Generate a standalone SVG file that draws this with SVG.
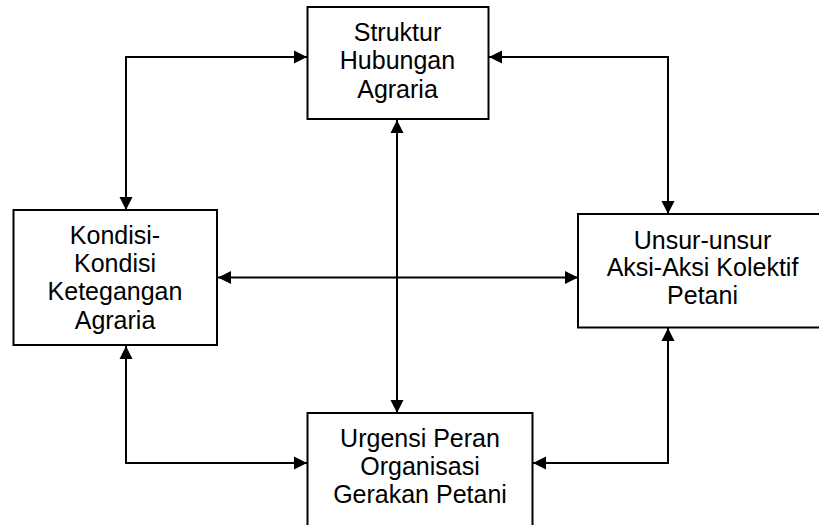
<svg xmlns="http://www.w3.org/2000/svg" width="819" height="525" viewBox="0 0 819 525">
<style>
.box{fill:#fff;stroke:#000;stroke-width:2}
.lbl{font-family:"Liberation Sans",Arial,sans-serif;font-size:25px;fill:#000;text-anchor:middle}
.conn{fill:none;stroke:#000;stroke-width:2;marker-start:url(#ah);marker-end:url(#ah)}
</style>
<defs>
<marker id="ah" markerUnits="userSpaceOnUse" markerWidth="14" markerHeight="14" refX="13" refY="6.5" orient="auto-start-reverse" viewBox="0 0 14 13">
<path d="M0,0 L13,6.5 L0,13 z" fill="#000"/>
</marker>
</defs>
<rect width="819" height="525" fill="#fff"/>
<g id="connectors">
<path class="conn" d="M307,57 H126 V210"/>
<path class="conn" d="M489,57 H668 V214"/>
<path class="conn" d="M397,120 V413"/>
<path class="conn" d="M218,277.5 H578"/>
<path class="conn" d="M126,346 V463 H307"/>
<path class="conn" d="M533,463 H668 V328"/>
</g>
<g id="struktur">
<rect class="box" x="307.5" y="7" width="181" height="112"/>
<text class="lbl" x="397.5" y="41">Struktur</text>
<text class="lbl" x="397.5" y="69">Hubungan</text>
<text class="lbl" x="397.5" y="97.5">Agraria</text>
</g>
<g id="kondisi">
<rect class="box" x="13.5" y="210" width="203.5" height="135"/>
<text class="lbl" x="115" y="243.5">Kondisi-</text>
<text class="lbl" x="115" y="271.5">Kondisi</text>
<text class="lbl" x="115" y="300">Ketegangan</text>
<text class="lbl" x="115" y="328.5">Agraria</text>
</g>
<g id="unsur">
<rect class="box" x="578" y="214" width="249" height="113.5"/>
<text class="lbl" x="702.5" y="248.5">Unsur-unsur</text>
<text class="lbl" x="702.5" y="276">Aksi-Aksi Kolektif</text>
<text class="lbl" x="702.5" y="304">Petani</text>
</g>
<g id="urgensi">
<rect class="box" x="307.5" y="413" width="225" height="130"/>
<text class="lbl" x="420" y="447">Urgensi Peran</text>
<text class="lbl" x="420" y="474.5">Organisasi</text>
<text class="lbl" x="420" y="502.5">Gerakan Petani</text>
</g>
</svg>
